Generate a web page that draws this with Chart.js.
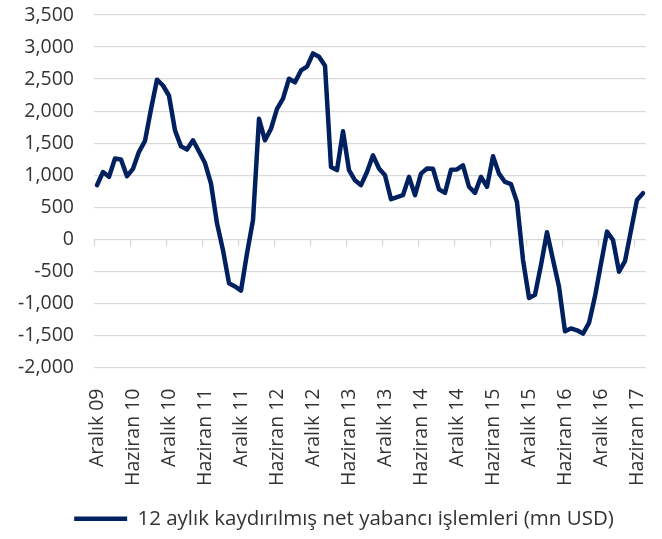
<!DOCTYPE html>
<html>
<head>
<meta charset="utf-8">
<script src="https://cdn.jsdelivr.net/npm/chart.js@4"></script>
<style>
  html, body { margin: 0; padding: 0; background: #fff; }
  #wrap { width: 662px; height: 539px; }
</style>
</head>
<body>
<div id="wrap"><canvas id="chart"></canvas></div>
<script>
// months Aralık 09 .. Temmuz 17
const months = [
    'Aralık 09',
    'Ocak 10', 'Şubat 10', 'Mart 10', 'Nisan 10', 'Mayıs 10', 'Haziran 10', 'Temmuz 10', 'Ağustos 10', 'Eylül 10', 'Ekim 10', 'Kasım 10', 'Aralık 10',
    'Ocak 11', 'Şubat 11', 'Mart 11', 'Nisan 11', 'Mayıs 11', 'Haziran 11', 'Temmuz 11', 'Ağustos 11', 'Eylül 11', 'Ekim 11', 'Kasım 11', 'Aralık 11',
    'Ocak 12', 'Şubat 12', 'Mart 12', 'Nisan 12', 'Mayıs 12', 'Haziran 12', 'Temmuz 12', 'Ağustos 12', 'Eylül 12', 'Ekim 12', 'Kasım 12', 'Aralık 12',
    'Ocak 13', 'Şubat 13', 'Mart 13', 'Nisan 13', 'Mayıs 13', 'Haziran 13', 'Temmuz 13', 'Ağustos 13', 'Eylül 13', 'Ekim 13', 'Kasım 13', 'Aralık 13',
    'Ocak 14', 'Şubat 14', 'Mart 14', 'Nisan 14', 'Mayıs 14', 'Haziran 14', 'Temmuz 14', 'Ağustos 14', 'Eylül 14', 'Ekim 14', 'Kasım 14', 'Aralık 14',
    'Ocak 15', 'Şubat 15', 'Mart 15', 'Nisan 15', 'Mayıs 15', 'Haziran 15', 'Temmuz 15', 'Ağustos 15', 'Eylül 15', 'Ekim 15', 'Kasım 15', 'Aralık 15',
    'Ocak 16', 'Şubat 16', 'Mart 16', 'Nisan 16', 'Mayıs 16', 'Haziran 16', 'Temmuz 16', 'Ağustos 16', 'Eylül 16', 'Ekim 16', 'Kasım 16', 'Aralık 16',
    'Ocak 17', 'Şubat 17', 'Mart 17', 'Nisan 17', 'Mayıs 17', 'Haziran 17', 'Temmuz 17'
];

// 12 aylık kaydırılmış net yabancı işlemleri (mn USD)
const netFlows = [
    844,
    1050, 975, 1260, 1245, 985, 1100, 1365, 1535, 2030, 2490, 2400, 2240,
    1700, 1450, 1400, 1545, 1370, 1190, 870, 250, -170, -685, -735, -800,
    -220, 300, 1880, 1545, 1725, 2035, 2195, 2505, 2450, 2635, 2695, 2900,
    2850, 2710, 1130, 1080, 1685, 1080, 920, 845, 1050, 1310, 1105, 1000,
    625, 660, 690, 975, 690, 1025, 1105, 1100, 780, 725, 1085, 1090,
    1155, 820, 725, 975, 820, 1295, 1025, 895, 860, 580, -320, -915,
    -865, -400, 110, -320, -740, -1435, -1390, -1420, -1470, -1305, -890, -380,
    120, -10, -505, -340, 140, 615, 720
];

const yTicks = [-2000, -1500, -1000, -500, 0, 500, 1000, 1500, 2000, 2500, 3000, 3500];
const labelEvery = 6;

const textColor = '#333333';
const gridColor = '#d9d9d9';
const lineColor = '#002060';
const fontFamily = '"Open Sans", "Noto Sans", sans-serif';

// small tick marks on the zero line, like the Excel category axis
const zeroTicks = {
    id: 'zeroTicks',
    beforeDatasetsDraw(chart) {
        const ctx = chart.ctx;
        const xs = chart.scales.x;
        const y0 = chart.scales.y.getPixelForValue(0);
        const half = (xs.getPixelForValue(1) - xs.getPixelForValue(0)) / 2;
        ctx.save();
        ctx.strokeStyle = gridColor;
        ctx.lineWidth = 1.25;
        ctx.beginPath();
        for (let i = 0; i < months.length; i += labelEvery) {
            const px = Math.round(xs.getPixelForValue(i) - half) + 0.5;
            ctx.moveTo(px, y0);
            ctx.lineTo(px, y0 + 7);
        }
        ctx.stroke();
        ctx.restore();
    }
};

// the legend in the original sits a bit right of the canvas centre
const legendShift = {
    id: 'legendShift',
    afterLayout(chart) {
        chart.legend.left += 21;
        chart.legend.right += 21;
    }
};

const ctx = document.getElementById('chart').getContext('2d');
const myChart = new Chart(ctx, {
    type: 'line',
    data: {
        labels: months,
        datasets: [
            {
                label: '12 aylık kaydırılmış net yabancı işlemleri (mn USD)',
                data: netFlows,
                borderColor: lineColor,
                backgroundColor: lineColor,
                borderWidth: 4.5,
                pointRadius: 0,
                tension: 0,
                borderJoinStyle: 'round',
                borderCapStyle: 'round'
            }
        ]
    },
    options: {
        responsive: true,
        maintainAspectRatio: false,
        animation: false,
        layout: { padding: { top: 15, right: 16, bottom: 0, left: 0 } },
        plugins: {
            tooltip: { enabled: false },
            legend: {
                position: 'bottom',
                labels: {
                    usePointStyle: true,
                    pointStyle: 'line',
                    pointStyleWidth: 53,
                    color: textColor,
                    font: { family: fontFamily, size: 20.5 },
                    padding: 7
                }
            }
        },
        scales: {
            x: {
                offset: true,
                grid: { display: false, drawTicks: false },
                border: { display: false },
                ticks: {
                    autoSkip: false,
                    maxRotation: 90,
                    minRotation: 90,
                    padding: 21,
                    color: textColor,
                    font: { family: fontFamily, size: 19.5 },
                    callback: (v, i) => (i % labelEvery === 0 ? months[i] : '')
                },
                afterFit: (scale) => {
                    scale.height = 134;
                    scale.paddingLeft = 0;
                    scale.paddingRight = 0;
                }
            },
            y: {
                min: -2000,
                max: 3500,
                afterBuildTicks: (scale) => { scale.ticks = yTicks.map(v => ({ value: v })); },
                grid: { color: gridColor, lineWidth: 1.25, drawTicks: false },
                border: { display: false },
                ticks: {
                    padding: 20,
                    color: textColor,
                    font: { family: fontFamily, size: 19.5 },
                    callback: (v) => v.toLocaleString('en-US')
                },
                afterFit: (scale) => {
                    scale.width = 94;
                    scale.paddingTop = 0;
                    scale.paddingBottom = 0;
                }
            }
        }
    },
    plugins: [zeroTicks, legendShift]
});
</script>
</body>
</html>
